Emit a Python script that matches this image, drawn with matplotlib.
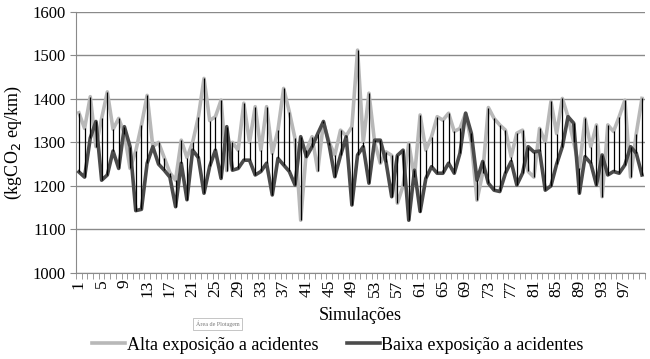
import matplotlib.pyplot as plt
import numpy as np

plt.rcParams['font.family'] = ['Liberation Serif', 'DejaVu Serif']

# Emissões por simulação (kgCO2 eq/km)
simulacoes = list(range(1, 101))
alta = [1368, 1332, 1405, 1290, 1355, 1416, 1330, 1355, 1320, 1240,
        1280, 1340, 1408, 1290, 1300, 1265, 1230, 1213, 1305, 1265,
        1300, 1358, 1447, 1350, 1359, 1397, 1235, 1300, 1282, 1390,
        1300, 1382, 1282, 1382, 1275, 1328, 1424, 1370, 1309, 1121,
        1282, 1313, 1235, 1345, 1300, 1271, 1328, 1315, 1336, 1512,
        1300, 1413, 1300, 1252, 1278, 1270, 1160, 1200, 1298, 1220,
        1363, 1282, 1313, 1359, 1351, 1367, 1325, 1332, 1367, 1300,
        1167, 1230, 1380, 1355, 1340, 1328, 1267, 1321, 1328, 1233,
        1220, 1332, 1300, 1394, 1320, 1401, 1359, 1300, 1240, 1355,
        1290, 1340, 1175, 1340, 1325, 1359, 1397, 1220, 1320, 1401]
baixa = [1232, 1220, 1310, 1348, 1213, 1225, 1280, 1240, 1336, 1290,
         1143, 1146, 1252, 1290, 1250, 1236, 1220, 1152, 1252, 1168,
         1282, 1265, 1183, 1245, 1282, 1217, 1336, 1236, 1240, 1259,
         1259, 1225, 1233, 1252, 1179, 1263, 1248, 1233, 1202, 1313,
         1267, 1290, 1320, 1348, 1294, 1221, 1270, 1313, 1156, 1271,
         1290, 1206, 1305, 1305, 1255, 1175, 1270, 1282, 1121, 1236,
         1141, 1217, 1244, 1229, 1229, 1252, 1229, 1275, 1367, 1321,
         1213, 1256, 1206, 1190, 1187, 1229, 1256, 1202, 1229, 1290,
         1278, 1280, 1190, 1200, 1250, 1290, 1359, 1344, 1183, 1267,
         1252, 1202, 1271, 1225, 1233, 1229, 1248, 1290, 1275, 1225]
rotulos_x = list(range(1, 101, 4))

x = np.array(simulacoes)
a = np.array(alta)
b = np.array(baixa)

fig = plt.figure(figsize=(6.5, 3.59), dpi=100)
ax = fig.add_axes([0.117, 0.240, 0.875, 0.727])

ax.set_ylim(1000, 1600)
ax.set_xlim(0.5, 100.5)
ax.set_yticks(range(1000, 1601, 100))
ax.yaxis.grid(True, color='#8a8a8a', lw=1.0)
ax.set_axisbelow(True)

ax.plot(x, a, color='#b8b8b8', lw=2.6, solid_joinstyle='round', zorder=2,
        label='Alta exposição a acidentes')
ax.plot(x, b, color='#4b4b4b', lw=2.6, solid_joinstyle='round', zorder=3,
        label='Baixa exposição a acidentes')
ax.vlines(x, np.minimum(a, b), np.maximum(a, b), color='black', lw=0.9, zorder=4)

for s in ['top', 'right']:
    ax.spines[s].set_visible(False)
for s in ['left', 'bottom']:
    ax.spines[s].set_color('#8a8a8a')

ax.set_xticks(rotulos_x)
ax.set_xticklabels([str(r) for r in rotulos_x], rotation=90, fontsize=12.5)
ax.set_xticks(np.arange(0.5, 101, 1), minor=True)
ax.tick_params(axis='x', which='major', length=0, pad=5)
ax.tick_params(axis='x', which='minor', length=4, color='#8a8a8a', direction='out')
ax.tick_params(axis='y', length=4, color='#8a8a8a', labelsize=12)

ax.set_xlabel('Simulações', fontsize=13, labelpad=7)
ax.set_ylabel('(kgCO$_2$ eq/km)', fontsize=13, labelpad=6)

fig.text(0.335, 0.097, 'Área de Plotagem', fontsize=4.3, color='#777777',
         ha='center', va='center',
         bbox=dict(boxstyle='square,pad=0.45', fc='white', ec='#bbbbbb', lw=0.6))

fig.legend(loc='lower center', bbox_to_anchor=(0.52, -0.03), ncol=2, frameon=False,
           fontsize=13, handlelength=1.8, handletextpad=0.1, columnspacing=1.6)

plt.savefig('out.png', dpi=100)
